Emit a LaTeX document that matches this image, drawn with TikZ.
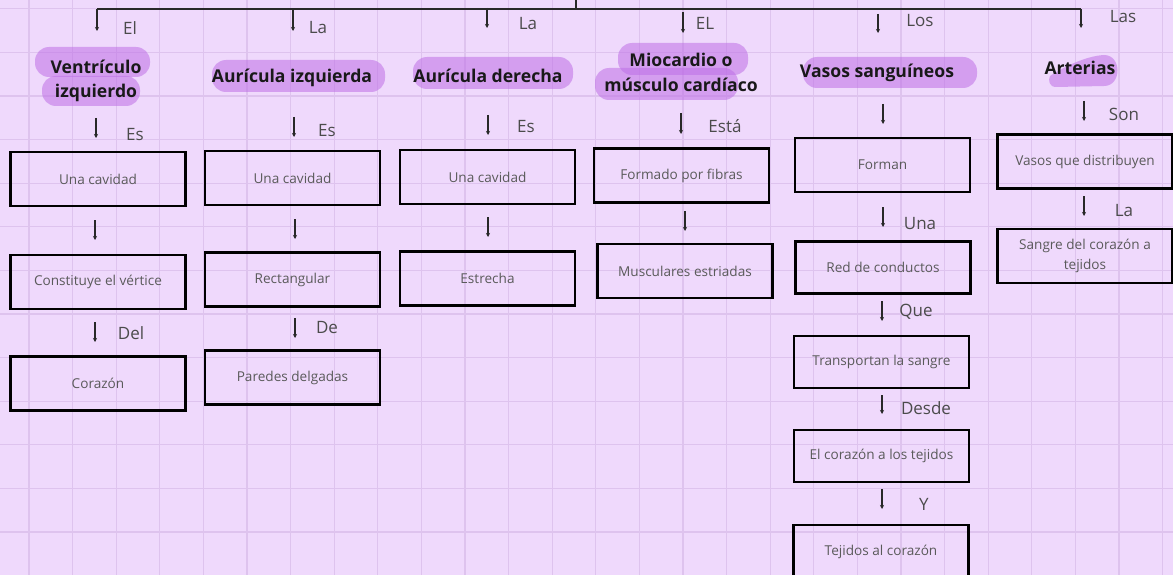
\documentclass[tikz,border=0pt]{standalone}
\usepackage{fontspec}
\setmainfont{Open Sans}
\usetikzlibrary{arrows.meta}
\definecolor{bg}{RGB}{239,217,252}
\definecolor{gridc}{RGB}{222,195,238}
\definecolor{hl}{RGB}{190,111,230}
\definecolor{txt}{RGB}{90,90,90}
\definecolor{lblc}{RGB}{75,75,75}
\definecolor{arrc}{RGB}{40,40,40}
\begin{document}
\begin{tikzpicture}[x=1pt,y=-1pt,
  box/.style={draw=black, line width=2.6pt, minimum width=175pt, minimum height=54pt, inner sep=0pt, text=txt, font=\fontsize{13.6}{20}\selectfont, align=center},
  lbl/.style={text=lblc, font=\fontsize{17}{18}\selectfont, inner sep=0pt},
  head/.style={font=\bfseries\fontsize{17.6}{24.5}\selectfont, text=black!90, inner sep=0pt, align=center},
  arr/.style={draw=arrc, line width=1.4pt, -{Stealth[length=4pt,width=4pt]}},
  bracket/.style={draw=arrc, line width=1.4pt},
  hlb/.style={fill=hl, fill opacity=0.55, rounded corners=14pt},
]
\useasboundingbox (0,0) rectangle (1173,575);
\clip (0,0) rectangle (1173,575);
\fill[bg] (0,0) rectangle (1173,575);
% grid
\foreach \i in {0,...,26} \draw[gridc, line width=1.2pt] ({29+43.6*\i},0) -- ({29+43.6*\i},575);
\foreach \j in {0,...,13} \draw[gridc, line width=1.2pt] (0,{8.8+43.6*\j}) -- (1173,{8.8+43.6*\j});

% highlight blobs
\fill[hlb] (35,47) rectangle (150,77);
\fill[hlb] (42,76) rectangle (140,106);
\fill[hlb] (212,60) rectangle (385,92);
\fill[hlb] (413,57) rectangle (573,89);
\fill[hlb] (618,43) rectangle (748,75);
\fill[hlb] (595,68) rectangle (738,100);
\fill[hlb] (803,57) rectangle (977,88);
\fill[hl, fill opacity=0.55] (1050,76) .. controls (1062,68) and (1085,56) .. (1104,55) .. controls (1122,55) and (1122,86) .. (1104,86) -- (1056,87) .. controls (1049,87) and (1048,80) .. (1050,76) -- cycle;

% headings
\node[head] (h1) at (96,81) {Ventrículo\\izquierdo};
\node[head] (h2) at (292,78) {Aurícula izquierda};
\node[head] (h3) at (488,75.5) {Aurícula derecha};
\node[head] (h4) at (681,72.5) {Miocardio o\\músculo cardíaco};
\node[head] (h5) at (877,73) {Vasos sanguíneos};
\node[head] (h6) at (1080,67.5) {Arterias};

% top bracket
\coordinate (stubT) at (576,0);
\coordinate (stubB) at (576,9);
\coordinate (topL) at (97,9);
\coordinate (topR) at (1081,9);
\draw[bracket] (topL) -- (topR);
\draw[bracket] (stubT) -- (stubB);
\coordinate (t1e) at (97,31);
\coordinate (t2s) at (293,9);  \coordinate (t2e) at (293,31);
\coordinate (t3s) at (487,8);  \coordinate (t3e) at (487,28);
\coordinate (t4s) at (683,12); \coordinate (t4e) at (683,33);
\coordinate (t5s) at (878,14); \coordinate (t5e) at (878,33);
\coordinate (t6e) at (1081,28);
\draw[arr] (topL) -- (t1e);
\draw[arr] (t2s) -- (t2e);
\draw[arr] (t3s) -- (t3e);
\draw[arr] (t4s) -- (t4e);
\draw[arr] (t5s) -- (t5e);
\draw[arr] (topR) -- (t6e);

\node[lbl] (l1) at (130,28) {El};
\node[lbl] (l2) at (318,28) {La};
\node[lbl] (l3) at (528,24) {La};
\node[lbl] (l4) at (705,23) {EL};
\node[lbl] (l5) at (920,21) {Los};
\node[lbl] (l6) at (1123,17) {Las};

% column 1
\node[box] (c1a) at (98,179) {Una cavidad};
\node[box] (c1b) at (98,282) {Constituye el vértice};
\node[box] (c1c) at (98,383.5) {Corazón};
\coordinate (a11s) at (96,118); \coordinate (a11e) at (96,138);
\coordinate (a12s) at (95,220); \coordinate (a12e) at (95,240);
\coordinate (a13s) at (95,322); \coordinate (a13e) at (95,342);
\draw[arr] (a11s) -- (a11e);
\draw[arr] (a12s) -- (a12e);
\draw[arr] (a13s) -- (a13e);
\node[lbl] at (135,135) {Es};
\node[lbl] at (131,333) {Del};

% column 2
\node[box] (c2a) at (292.5,178) {Una cavidad};
\node[box] (c2b) at (292.5,279.5) {Rectangular};
\node[box] (c2c) at (292.5,377.5) {Paredes delgadas};
\coordinate (a21s) at (294,117); \coordinate (a21e) at (294,137);
\coordinate (a22s) at (295,219); \coordinate (a22e) at (295,239);
\coordinate (a23s) at (295,318); \coordinate (a23e) at (295,338);
\draw[arr] (a21s) -- (a21e);
\draw[arr] (a22s) -- (a22e);
\draw[arr] (a23s) -- (a23e);
\node[lbl] at (327,131) {Es};
\node[lbl] at (327,328) {De};

% column 3
\node[box] (c3a) at (487.5,177) {Una cavidad};
\node[box] (c3b) at (487.5,278.5) {Estrecha};
\coordinate (a31s) at (488,115); \coordinate (a31e) at (488,135);
\coordinate (a32s) at (488,217); \coordinate (a32e) at (488,237);
\draw[arr] (a31s) -- (a31e);
\draw[arr] (a32s) -- (a32e);
\node[lbl] at (526,127) {Es};

% column 4
\node[box] (c4a) at (681.5,175.5) {Formado por fibras};
\node[box] (c4b) at (685,271) {Musculares estriadas};
\coordinate (a41s) at (681,113); \coordinate (a41e) at (681,134);
\coordinate (a42s) at (685,211); \coordinate (a42e) at (685,231);
\draw[arr] (a41s) -- (a41e);
\draw[arr] (a42s) -- (a42e);
\node[lbl] at (725,126) {Está};

% column 5
\node[box] (c5a) at (882.5,165) {Forman};
\node[box, minimum height=52pt] (c5b) at (883,267.5) {Red de conductos};
\node[box, minimum height=52pt] (c5c) at (881.5,362) {Transportan la sangre};
\node[box, minimum height=52pt] (c5d) at (881.5,456) {El corazón a los tejidos};
\node[box] (c5e) at (881,552) {Tejidos al corazón};
\coordinate (a51s) at (883,104); \coordinate (a51e) at (883,124);
\coordinate (a52s) at (883,207); \coordinate (a52e) at (883,227);
\coordinate (a53s) at (882,301); \coordinate (a53e) at (882,321);
\coordinate (a54s) at (882,395); \coordinate (a54e) at (882,414);
\coordinate (a55s) at (882,489); \coordinate (a55e) at (882,509);
\draw[arr] (a51s) -- (a51e);
\draw[arr] (a52s) -- (a52e);
\draw[arr] (a53s) -- (a53e);
\draw[arr] (a54s) -- (a54e);
\draw[arr] (a55s) -- (a55e);
\node[lbl] at (920,224) {Una};
\node[lbl] at (916,312) {Que};
\node[lbl] at (926,408) {Desde};
\node[lbl] at (924,504) {Y};

% column 6
\node[box] (c6a) at (1085,161.5) {Vasos que distribuyen};
\node[box] (c6b) at (1085,256) {Sangre del corazón a\\tejidos};
\coordinate (a61s) at (1084,101); \coordinate (a61e) at (1084,121);
\coordinate (a62s) at (1084,196); \coordinate (a62e) at (1084,216);
\draw[arr] (a61s) -- (a61e);
\draw[arr] (a62s) -- (a62e);
\node[lbl] at (1124,114) {Son};
\node[lbl] at (1124,211) {La};
\end{tikzpicture}
\end{document}
